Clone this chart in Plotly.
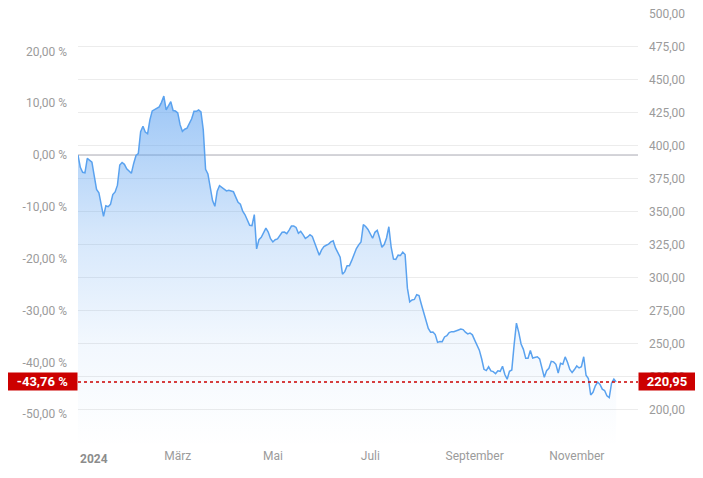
import plotly.graph_objects as go

# Trading-day index (0 = first trading day of 2024) and closing prices
prices = [
    392.87, 383.5, 379.8, 379.4, 390.3, 388.6, 387.4, 377.0, 366.8, 364.3,
    356.0, 346.4, 354.4, 353.7, 355.5, 362.9, 364.9, 370.0, 385.3, 387.2,
    385.8, 382.4, 380.8, 379.0, 386.5, 392.5, 394.0, 410.5, 414.7, 410.3,
    409.0, 419.5, 426.3, 427.3, 428.2, 429.3, 432.8, 437.5, 427.0, 429.7,
    433.3, 426.6, 426.2, 424.8, 415.9, 410.8, 412.4, 413.2, 416.2, 420.3,
    426.1, 426.0, 427.0, 425.5, 412.0, 382.0, 378.5, 368.2, 358.4, 354.0,
    365.5, 369.7, 368.2, 367.0, 365.7, 366.2, 365.6, 365.1, 361.0, 357.0,
    355.6, 350.3, 347.6, 343.8, 339.6, 339.3, 347.7, 321.7, 328.7, 330.5,
    334.0, 337.5, 334.5, 329.5, 327.0, 328.7, 329.3, 331.5, 334.3, 334.5,
    333.3, 336.0, 339.0, 339.0, 338.0, 333.5, 335.0, 332.5, 329.7, 330.8,
    332.5, 331.2, 326.9, 322.4, 317.0, 321.0, 323.5, 324.5, 325.4, 327.0,
    327.8, 322.5, 318.6, 315.5, 302.5, 304.5, 309.0, 309.0, 313.0, 318.3,
    322.0, 324.8, 327.0, 340.1, 338.7, 336.5, 332.8, 329.8, 334.3, 335.8,
    330.0, 323.0, 325.0, 330.0, 338.5, 323.0, 314.0, 313.8, 317.0, 316.8,
    319.3, 317.5, 292.0, 281.6, 283.0, 283.4, 287.0, 286.4, 279.8, 274.3,
    267.8, 261.5, 258.6, 258.8, 256.8, 250.9, 251.5, 251.4, 255.0, 255.9,
    258.3, 259.0, 258.9, 259.4, 260.3, 261.0, 260.6, 258.6, 257.3, 258.0,
    256.6, 252.6, 248.2, 245.0, 238.5, 230.5, 229.5, 232.4, 229.3, 228.7,
    227.1, 229.4, 229.0, 232.8, 226.5, 223.0, 229.0, 230.0, 249.0, 265.5,
    258.5, 249.7, 245.6, 238.8, 238.8, 244.8, 239.0, 239.4, 240.0, 238.4,
    232.2, 224.5, 229.4, 231.2, 236.5, 236.1, 234.3, 227.7, 235.0, 234.3,
    239.9, 235.9, 230.4, 228.0, 230.3, 233.0, 231.5, 232.4, 240.0, 226.0,
    223.5, 211.0, 213.0, 218.0, 220.8, 219.0, 215.4, 214.4, 210.4, 209.0,
    220.0, 223.1, 220.95,
]
days = list(range(len(prices)))

base_price = 392.87
last_price = 220.95
last_pct_text = "-43,76 %"
last_price_text = "220,95"

month_ticks = [43, 84, 126, 171, 215]
month_labels = ["März", "Mai", "Juli", "September", "November"]
year_label = "2024"

price_ticks = [200, 225, 250, 275, 300, 325, 350, 375, 400, 425, 450, 475, 500]
price_labels = ["200,00", "225,00", "250,00", "275,00", "300,00", "325,00", "350,00",
                "375,00", "400,00", "425,00", "450,00", "475,00", "500,00"]
pct_ticks = [-50, -40, -30, -20, -10, 0, 10, 20]
pct_labels = ["-50,00 %", "-40,00 %", "-30,00 %", "-20,00 %", "-10,00 %",
              "0,00 %", "10,00 %", "20,00 %"]

y_lo, y_hi = 171.6, 500.5
x_lo, x_hi = 0, 241.4

tick_font = dict(family="Roboto, Arial, sans-serif", size=12, color="#9b9b9b")

fig = go.Figure()
fig.add_trace(go.Scatter(
    x=days, y=prices, mode="lines",
    line=dict(color="#5aa2ef", width=1.5),
    fill="tozeroy",
    fillgradient=dict(
        type="vertical", start=y_lo, stop=440,
        colorscale=[[0, "rgba(90,160,240,0.0)"], [0.3, "rgba(90,160,240,0.08)"],
                    [0.6, "rgba(90,160,240,0.25)"], [1, "rgba(90,160,240,0.6)"]],
    ),
    hoverinfo="skip", showlegend=False,
))
# invisible trace to activate the left percent axis
fig.add_trace(go.Scatter(x=[days[0]], y=[0], yaxis="y2", mode="markers",
                         marker=dict(opacity=0), hoverinfo="skip", showlegend=False))

fig.add_shape(type="line", xref="paper", x0=0, x1=1, yref="y", y0=base_price, y1=base_price,
              line=dict(color="#a8a8b2", width=1), layer="below")
fig.add_shape(type="line", xref="paper", x0=0, x1=1, yref="y", y0=last_price, y1=last_price,
              line=dict(color="#cc0000", width=1.5, dash="dot"), layer="above")

ann_font = dict(family="Roboto, Arial, sans-serif", size=13, color="white")
fig.add_annotation(xref="paper", x=0, xanchor="right", yref="y", y=last_price, yanchor="middle",
                   text="<b>%s</b>" % last_pct_text, showarrow=False, font=ann_font,
                   bgcolor="#cc0000", width=67, height=15, borderpad=1, align="center")
fig.add_annotation(xref="paper", x=1, xanchor="left", yref="y", y=last_price, yanchor="middle",
                   text="<b>%s</b>" % last_price_text, showarrow=False, font=ann_font,
                   bgcolor="#cc0000", width=54, height=15, borderpad=1, align="center")
fig.add_annotation(xref="x", x=0, xanchor="left", yref="paper", y=0, yanchor="top", yshift=-3,
                   text="<b>%s</b>" % year_label, showarrow=False,
                   font=dict(family="Roboto, Arial, sans-serif", size=12, color="#8c8c8c"))

pct_lo = (y_lo / base_price - 1) * 100
pct_hi = (y_hi / base_price - 1) * 100

# the page body adds an 8 px offset, so margins are 8 px smaller on the top/left
fig.update_layout(
    width=703, height=478,
    margin=dict(l=70, r=73, t=5, b=39, autoexpand=False),
    paper_bgcolor="white", plot_bgcolor="white",
    xaxis=dict(range=[x_lo, x_hi], tickvals=month_ticks, ticktext=month_labels,
               showgrid=False, zeroline=False, showline=False, ticks="",
               tickfont=tick_font, fixedrange=True, automargin=False),
    yaxis=dict(range=[y_lo, y_hi], side="right", tickvals=price_ticks, ticktext=price_labels,
               showgrid=True, gridcolor="#ececec", gridwidth=1, zeroline=False,
               ticks="", ticklabelstandoff=10, tickfont=tick_font,
               ticklabeloverflow="allow", automargin=False),
    yaxis2=dict(range=[pct_lo, pct_hi], side="left", overlaying="y", tickvals=pct_ticks,
                ticktext=pct_labels, showgrid=False, zeroline=False, ticks="",
                ticklabelstandoff=10, tickfont=tick_font, automargin=False),
    hovermode=False,
)

fig.write_html("out.html")
